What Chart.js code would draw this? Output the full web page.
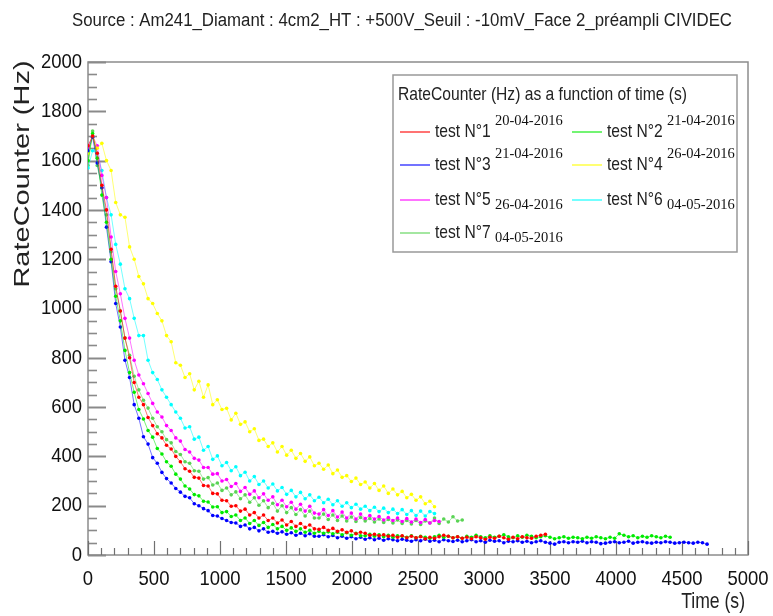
<!DOCTYPE html>
<html>
<head>
<meta charset="utf-8">
<script src="https://cdn.jsdelivr.net/npm/chart.js@4.4.1/dist/chart.umd.min.js"></script>
<style>
  html, body { margin: 0; padding: 0; background: #fff; }
  canvas { display: block; }
</style>
</head>
<body>
<canvas id="rateChart" width="773" height="616"></canvas>
<script>
// time step between samples (s)
const STEP = 35;

const seriesNames = ['test N°1', 'test N°2', 'test N°3', 'test N°4', 'test N°5', 'test N°6', 'test N°7'];
const seriesDates = ['20-04-2016', '21-04-2016', '21-04-2016', '26-04-2016', '26-04-2016', '04-05-2016', '04-05-2016'];

// RateCounter (Hz), one value every STEP seconds starting at t = 0
const test1 = [1660,1700,1630,1500,1400,1240,1090,990,880,800,
  700,640,610,558,525,492,475,445,430,400,
  378,350,340,315,312,282,280,250,248,222,
  220,198,200,178,186,162,172,150,162,140,
  150,130,142,122,136,116,128,112,122,106,
  104,112,100,108,96,102,92,98,86,92,
  88,80,84,78,82,76,80,72,78,70,
  76,70,74,66,72,68,74,80,76,70,
  74,68,72,66,74,70,64,72,68,76,
  70,64,72,66,74,70,68,76,80,84];
const test2 = [1600,1710,1610,1460,1350,1200,1050,950,830,740,
  660,590,552,505,478,432,410,378,360,328,
  308,280,268,245,240,218,215,195,196,172,
  176,156,162,140,150,128,140,120,132,112,
  124,106,116,100,110,96,106,92,100,88,
  96,88,94,86,92,82,90,80,88,78,
  78,84,76,82,74,80,72,78,76,72,
  78,70,76,72,68,74,80,72,76,70,
  74,68,76,72,80,74,70,78,72,76,
  82,74,70,78,72,80,76,70,74,78,
  72,66,70,74,68,72,70,66,72,68,
  74,70,66,72,68,86,80,74,78,70,
  76,72,78,74,70,76,72];
const test3 = [1640,1695,1590,1490,1330,1190,1020,925,790,720,
  610,555,480,450,395,372,335,310,292,270,
  255,238,232,208,200,188,180,160,158,148,
  140,132,130,116,122,106,112,98,106,92,
  96,88,94,84,90,80,88,78,86,76,
  76,82,74,79,70,76,68,74,66,72,
  64,70,62,68,60,66,62,58,64,60,
  56,62,58,64,56,60,54,62,58,55,
  60,54,58,62,54,58,52,60,56,58,
  50,56,54,58,52,56,50,54,58,52,
  48,44,52,54,50,54,52,56,50,54,
  52,46,48,52,54,50,52,56,48,52,
  54,50,48,52,50,54,52,48,50,52,
  50,48,52,50,44];
const test4 = [1630,1700,1650,1670,1600,1560,1430,1380,1370,1250,
  1200,1130,1100,1040,1020,980,950,890,865,780,
  770,720,735,670,705,640,690,610,630,590,
  595,548,575,530,540,500,512,465,470,440,
  455,418,440,405,425,392,412,380,398,362,
  372,348,365,330,345,315,322,298,312,286,
  296,272,290,262,280,250,268,244,258,232,
  246,222,236,208,218,196];
const test5 = [1650,1700,1660,1540,1450,1290,1150,1060,960,880,
  790,730,695,655,615,580,560,525,505,475,
  462,428,418,392,385,355,355,328,330,300,
  306,278,290,258,274,246,260,232,248,222,
  236,204,222,196,214,186,206,178,198,170,
  166,184,160,180,154,174,150,170,146,166,
  148,160,146,156,142,152,140,150,136,148,
  134,146,132,144,130,140,136];
const test6 = [1570,1640,1630,1560,1450,1380,1260,1180,1080,1040,
  960,890,890,790,740,712,670,640,610,580,
  555,515,520,470,478,425,440,388,402,362,
  375,342,358,322,336,300,318,286,300,272,
  288,260,274,246,262,236,254,228,244,220,
  234,212,226,204,220,198,212,192,206,186,
  198,180,194,176,190,172,186,168,184,164,
  180,160,178,158,176,168];
const test7 = [1580,1720,1580,1490,1380,1230,1080,990,880,810,
  725,670,628,596,555,520,500,468,455,420,
  408,378,372,342,340,308,314,284,292,262,
  272,244,256,228,244,214,232,202,220,192,
  210,178,200,172,192,164,184,158,178,150,
  150,166,144,162,140,158,138,154,136,152,
  138,148,134,146,132,144,130,142,128,140,
  126,140,124,138,130,150,128,146,134,155,
  138,142];

const allSeries = [test1, test2, test3, test4, test5, test6, test7];
const colors = ['255,0,0', '0,235,0', '0,0,255', '255,255,0', '255,0,255', '0,255,255', '89,212,84'];

const TITLE = 'Source : Am241_Diamant : 4cm2_HT : +500V_Seuil : -10mV_Face 2_préampli CIVIDEC';
const LEGEND_HEADER = 'RateCounter (Hz) as a function of time (s)';
const SANS = "'Liberation Sans', Arial, sans-serif";
const SERIF = "'Liberation Serif', 'Times New Roman', serif";

const datasets = allSeries.map(function(values, i) {
  return {
    label: seriesNames[i],
    data: values.map(function(v, k) { return { x: k * STEP, y: v }; }),
    borderColor: 'rgba(' + colors[i] + ',0.55)',
    backgroundColor: 'rgb(' + colors[i] + ')',
    pointBackgroundColor: 'rgb(' + colors[i] + ')',
    borderWidth: 1,
    pointRadius: 1.8,
    pointBorderWidth: 0,
    tension: 0,
    fill: false
  };
});

// text squeezed horizontally, like the narrow ROOT font
function squeezed(c, text, x, y, size, sx, align) {
  c.save();
  c.font = size + 'px ' + SANS;
  c.textAlign = align;
  c.textBaseline = 'middle';
  c.translate(x, y);
  c.scale(sx, 1);
  c.fillText(text, 0, 0);
  c.restore();
}
function fitScale(c, text, size, target) {
  c.save();
  c.font = size + 'px ' + SANS;
  const w = c.measureText(text).width;
  c.restore();
  return target / w;
}

// ROOT-like frame, inward ticks, labels, titles and legend box
const rootStyle = {
  id: 'rootStyle',
  beforeDatasetsDraw(chart) {
    const c = chart.ctx, a = chart.chartArea;
    const xs = chart.scales.x, ys = chart.scales.y;
    c.save();
    c.strokeStyle = '#8c8c8c';
    c.lineWidth = 1.5;
    c.strokeRect(a.left, a.top, a.right - a.left, a.bottom - a.top);
    c.strokeStyle = '#8a8a8a';
    for (let v = 0; v <= 2000; v += 50) {
      const p = Math.round(ys.getPixelForValue(v)) + 0.5;
      const major = v % 200 === 0;
      c.lineWidth = major ? 2 : 1.6;
      c.beginPath();
      c.moveTo(a.left, p);
      c.lineTo(a.left + (major ? 18 : 9), p);
      c.stroke();
    }
    c.strokeStyle = '#707070';
    c.lineWidth = 1.2;
    for (let v = 0; v <= 5000; v += 100) {
      const p = Math.round(xs.getPixelForValue(v)) + 0.5;
      const major = v % 500 === 0;
      c.beginPath();
      c.moveTo(p, a.bottom);
      c.lineTo(p, a.bottom - (major ? 14 : 7));
      c.stroke();
    }
    // tick labels from the scales
    c.fillStyle = '#111';
    ys.ticks.forEach(function(t) {
      squeezed(c, String(t.value), a.left - 6, ys.getPixelForValue(t.value), 21, 0.88, 'right');
    });
    xs.ticks.forEach(function(t) {
      squeezed(c, String(t.value), xs.getPixelForValue(t.value), a.bottom + 24, 21, 0.88, 'center');
    });
    c.restore();
  },
  afterDraw(chart) {
    const c = chart.ctx;
    c.save();
    c.fillStyle = '#222';
    squeezed(c, TITLE, 402, 21, 18, fitScale(c, TITLE, 18, 660), 'center');
    squeezed(c, 'Time (s)', 745, 602, 22, 0.8, 'right');
    // y title
    c.save();
    c.translate(23, 174);
    c.rotate(-Math.PI / 2);
    c.scale(1, 0.75);
    c.font = '29px ' + SANS;
    c.textAlign = 'center';
    c.textBaseline = 'middle';
    c.fillText('RateCounter (Hz)', 0, 0);
    c.restore();

    // legend box
    c.fillStyle = '#fff';
    c.fillRect(393, 75, 344, 177);
    c.strokeStyle = '#999';
    c.lineWidth = 1.5;
    c.strokeRect(393, 75, 344, 177);
    c.fillStyle = '#222';
    const sx = fitScale(c, LEGEND_HEADER, 19, 289);
    squeezed(c, LEGEND_HEADER, 398, 95, 19, sx, 'left');
    const rowsY = [132, 165, 200, 233];
    chart.data.datasets.forEach(function(ds, i) {
      const col = i % 2, row = Math.floor(i / 2);
      const x0 = col === 0 ? 400 : 572;
      const y = rowsY[row];
      c.strokeStyle = ds.borderColor;
      c.lineWidth = 2;
      c.beginPath();
      c.moveTo(x0, y);
      c.lineTo(x0 + 30, y);
      c.stroke();
      c.fillStyle = '#222';
      squeezed(c, ds.label, x0 + 35, y, 19, sx, 'left');
      c.font = '14.5px ' + SERIF;
      c.textAlign = 'left';
      c.textBaseline = 'middle';
      c.fillStyle = '#111';
      c.fillText(seriesDates[i], x0 + 95, i < 4 ? y - 11 : y + 5);
    });
    c.restore();
  }
};

const ctx = document.getElementById('rateChart');
new Chart(ctx, {
  type: 'line',
  data: { datasets: datasets },
  options: {
    responsive: false,
    animation: false,
    devicePixelRatio: 1,
    layout: { padding: { top: 62, right: 25, left: 0, bottom: 0 } },
    plugins: {
      legend: { display: false },
      title: { display: false },
      tooltip: { enabled: false }
    },
    scales: {
      x: {
        type: 'linear',
        min: 0,
        max: 5000,
        border: { display: false },
        grid: { display: false, drawTicks: false },
        afterFit: function(s) { s.height = 61; },
        ticks: { stepSize: 500, display: false }
      },
      y: {
        min: 0,
        max: 2000,
        border: { display: false },
        grid: { display: false, drawTicks: false },
        afterFit: function(s) { s.width = 88; },
        ticks: { stepSize: 200, display: false }
      }
    }
  },
  plugins: [rootStyle]
});
</script>
</body>
</html>
